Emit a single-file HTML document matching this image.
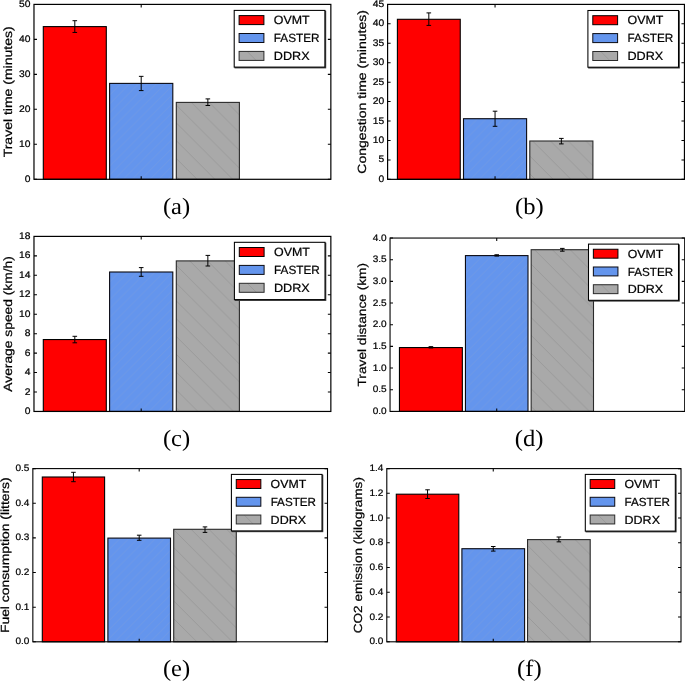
<!DOCTYPE html>
<html><head><meta charset="utf-8"><title>figure</title><style>
html,body{margin:0;padding:0;background:#ffffff;}
body{width:685px;height:681px;overflow:hidden;}
svg{display:block;will-change:transform;}
text{font-family:"Liberation Sans",sans-serif;fill:#000;text-rendering:geometricPrecision;stroke:#000;stroke-width:0.22px;}
.sub{font-family:"Liberation Serif",serif;stroke:none;}
</style></head><body>
<svg width="685" height="681" viewBox="0 0 685 681">
<defs>
<pattern id="hb" patternUnits="userSpaceOnUse" width="8.9" height="8.9"><path d="M-1 9.9L9.9 -1M-1 1L1 -1M7.9 9.9L9.9 7.9" stroke="#b4b4b4" stroke-opacity="0.2" stroke-width="0.7" fill="none"/></pattern>
<pattern id="hg" patternUnits="userSpaceOnUse" width="17.8" height="17.8"><path d="M-1 -1L18.8 18.8M-1 16.8L1 18.8M16.8 -1L18.8 1" stroke="#8c8c8c" stroke-opacity="0.75" stroke-width="0.7" fill="none"/></pattern>
</defs>
<rect x="0" y="0" width="685" height="681" fill="#ffffff"/>
<g id="chart-a">
<rect x="43.3" y="26.6" width="63" height="152.7" fill="#ff0000"/>
<rect x="43.3" y="26.6" width="63" height="152.7" fill="none" stroke="#000000" stroke-width="1.1"/>
<rect x="109.6" y="83.4" width="63.2" height="95.9" fill="#6495ed"/>
<rect x="109.6" y="83.4" width="63.2" height="95.9" fill="url(#hb)"/>
<rect x="109.6" y="83.4" width="63.2" height="95.9" fill="none" stroke="#0a0a12" stroke-width="1.1"/>
<rect x="176.3" y="102.4" width="63.1" height="76.9" fill="#a9a9a9"/>
<rect x="176.3" y="102.4" width="63.1" height="76.9" fill="url(#hg)"/>
<rect x="176.3" y="102.4" width="63.1" height="76.9" fill="none" stroke="#2a2a2a" stroke-width="1.1"/>
<path d="M74.8 20.7V32.45M72.5 20.7H77.1M72.5 32.45H77.1" stroke="#000" stroke-width="1" fill="none"/>
<path d="M141.2 76.35V90.6M138.9 76.35H143.5M138.9 90.6H143.5" stroke="#000" stroke-width="1" fill="none"/>
<path d="M207.85 98.9V105.5M205.55 98.9H210.15M205.55 105.5H210.15" stroke="#000" stroke-width="1" fill="none"/>
<rect x="33.98" y="4.4" width="296.87" height="174.9" fill="none" stroke="#000" stroke-width="1.2"/>
<path d="M33.98 179.3h3M330.85 179.3h-3M33.98 144.32h3M330.85 144.32h-3M33.98 109.34h3M330.85 109.34h-3M33.98 74.36h3M330.85 74.36h-3M33.98 39.38h3M330.85 39.38h-3M33.98 4.4h3M330.85 4.4h-3M141.2 179.3v-3M141.2 4.4v3" stroke="#000" stroke-width="1.05" fill="none"/>
<text x="24.8" y="181.85" font-size="9.5" textLength="5.73" lengthAdjust="spacingAndGlyphs">0</text>
<text x="19.08" y="146.87" font-size="9.5" textLength="11.45" lengthAdjust="spacingAndGlyphs">10</text>
<text x="19.08" y="111.89" font-size="9.5" textLength="11.45" lengthAdjust="spacingAndGlyphs">20</text>
<text x="19.08" y="76.91" font-size="9.5" textLength="11.45" lengthAdjust="spacingAndGlyphs">30</text>
<text x="19.08" y="41.93" font-size="9.5" textLength="11.45" lengthAdjust="spacingAndGlyphs">40</text>
<text x="19.08" y="6.95" font-size="9.5" textLength="11.45" lengthAdjust="spacingAndGlyphs">50</text>
<text transform="translate(12.4 91.85) rotate(-90)" x="-65.51" y="0" font-size="11.9" textLength="131.02" lengthAdjust="spacingAndGlyphs">Travel time (minutes)</text>
<rect x="235" y="11.2" width="90.7" height="56.7" fill="#3a3a3a" stroke="#3a3a3a" stroke-width="1"/>
<rect x="234.2" y="10.4" width="90.7" height="56.7" fill="#fff" stroke="#000" stroke-width="1.05"/>
<rect x="239.1" y="15.6" width="24.8" height="9" fill="#ff0000"/>
<rect x="239.1" y="15.6" width="24.8" height="9" fill="none" stroke="#000000" stroke-width="1"/>
<text x="273.8" y="24.35" font-size="11.9" textLength="35.86" lengthAdjust="spacingAndGlyphs">OVMT</text>
<rect x="239.1" y="33.5" width="24.8" height="9" fill="#6495ed"/>
<rect x="239.1" y="33.5" width="24.8" height="9" fill="none" stroke="#0a0a12" stroke-width="1"/>
<text x="273.8" y="42.25" font-size="11.9" textLength="45.81" lengthAdjust="spacingAndGlyphs">FASTER</text>
<rect x="239.1" y="51.4" width="24.8" height="9" fill="#a9a9a9"/>
<path d="M247.1 51.4l9 9" stroke="#8c8c8c" stroke-opacity="0.7" stroke-width="0.7"/>
<rect x="239.1" y="51.4" width="24.8" height="9" fill="none" stroke="#2a2a2a" stroke-width="1"/>
<text x="273.8" y="60.15" font-size="11.9" textLength="35.77" lengthAdjust="spacingAndGlyphs">DDRX</text>
<text class="sub" x="162.95" y="214.4" font-size="23.5" textLength="27.3" lengthAdjust="spacingAndGlyphs">(a)</text>
</g>
<g id="chart-b">
<rect x="397.4" y="19.3" width="62.85" height="160.05" fill="#ff0000"/>
<rect x="397.4" y="19.3" width="62.85" height="160.05" fill="none" stroke="#000000" stroke-width="1.1"/>
<rect x="463.5" y="118.7" width="63.1" height="60.65" fill="#6495ed"/>
<rect x="463.5" y="118.7" width="63.1" height="60.65" fill="url(#hb)"/>
<rect x="463.5" y="118.7" width="63.1" height="60.65" fill="none" stroke="#0a0a12" stroke-width="1.1"/>
<rect x="529.8" y="141" width="63.1" height="38.35" fill="#a9a9a9"/>
<rect x="529.8" y="141" width="63.1" height="38.35" fill="url(#hg)"/>
<rect x="529.8" y="141" width="63.1" height="38.35" fill="none" stroke="#2a2a2a" stroke-width="1.1"/>
<path d="M428.82 12.9V25.4M426.52 12.9H431.12M426.52 25.4H431.12" stroke="#000" stroke-width="1" fill="none"/>
<path d="M495.05 111.2V126.3M492.75 111.2H497.35M492.75 126.3H497.35" stroke="#000" stroke-width="1" fill="none"/>
<path d="M561.35 138.4V143.9M559.05 138.4H563.65M559.05 143.9H563.65" stroke="#000" stroke-width="1" fill="none"/>
<rect x="387.6" y="4.4" width="296.85" height="174.95" fill="none" stroke="#000" stroke-width="1.2"/>
<path d="M387.6 179.35h3M684.45 179.35h-3M387.6 159.91h3M684.45 159.91h-3M387.6 140.47h3M684.45 140.47h-3M387.6 121.03h3M684.45 121.03h-3M387.6 101.59h3M684.45 101.59h-3M387.6 82.16h3M684.45 82.16h-3M387.6 62.72h3M684.45 62.72h-3M387.6 43.28h3M684.45 43.28h-3M387.6 23.84h3M684.45 23.84h-3M387.6 4.4h3M684.45 4.4h-3M495.05 179.35v-3M495.05 4.4v3" stroke="#000" stroke-width="1.05" fill="none"/>
<text x="378.42" y="181.9" font-size="9.5" textLength="5.73" lengthAdjust="spacingAndGlyphs">0</text>
<text x="378.42" y="162.46" font-size="9.5" textLength="5.73" lengthAdjust="spacingAndGlyphs">5</text>
<text x="372.7" y="143.02" font-size="9.5" textLength="11.45" lengthAdjust="spacingAndGlyphs">10</text>
<text x="372.7" y="123.58" font-size="9.5" textLength="11.45" lengthAdjust="spacingAndGlyphs">15</text>
<text x="372.7" y="104.14" font-size="9.5" textLength="11.45" lengthAdjust="spacingAndGlyphs">20</text>
<text x="372.7" y="84.71" font-size="9.5" textLength="11.45" lengthAdjust="spacingAndGlyphs">25</text>
<text x="372.7" y="65.27" font-size="9.5" textLength="11.45" lengthAdjust="spacingAndGlyphs">30</text>
<text x="372.7" y="45.83" font-size="9.5" textLength="11.45" lengthAdjust="spacingAndGlyphs">35</text>
<text x="372.7" y="26.39" font-size="9.5" textLength="11.45" lengthAdjust="spacingAndGlyphs">40</text>
<text x="372.7" y="6.95" font-size="9.5" textLength="11.45" lengthAdjust="spacingAndGlyphs">45</text>
<text transform="translate(366.1 91.88) rotate(-90)" x="-81.79" y="0" font-size="11.9" textLength="163.58" lengthAdjust="spacingAndGlyphs">Congestion time (minutes)</text>
<rect x="588.7" y="11.3" width="90.6" height="56.7" fill="#3a3a3a" stroke="#3a3a3a" stroke-width="1"/>
<rect x="587.9" y="10.5" width="90.6" height="56.7" fill="#fff" stroke="#000" stroke-width="1.05"/>
<rect x="592.8" y="15.7" width="24.8" height="9" fill="#ff0000"/>
<rect x="592.8" y="15.7" width="24.8" height="9" fill="none" stroke="#000000" stroke-width="1"/>
<text x="627.5" y="24.45" font-size="11.9" textLength="35.86" lengthAdjust="spacingAndGlyphs">OVMT</text>
<rect x="592.8" y="33.6" width="24.8" height="9" fill="#6495ed"/>
<rect x="592.8" y="33.6" width="24.8" height="9" fill="none" stroke="#0a0a12" stroke-width="1"/>
<text x="627.5" y="42.35" font-size="11.9" textLength="45.81" lengthAdjust="spacingAndGlyphs">FASTER</text>
<rect x="592.8" y="51.5" width="24.8" height="9" fill="#a9a9a9"/>
<path d="M600.8 51.5l9 9" stroke="#8c8c8c" stroke-opacity="0.7" stroke-width="0.7"/>
<rect x="592.8" y="51.5" width="24.8" height="9" fill="none" stroke="#2a2a2a" stroke-width="1"/>
<text x="627.5" y="60.25" font-size="11.9" textLength="35.77" lengthAdjust="spacingAndGlyphs">DDRX</text>
<text class="sub" x="514.96" y="214.4" font-size="23.5" textLength="28.68" lengthAdjust="spacingAndGlyphs">(b)</text>
</g>
<g id="chart-c">
<rect x="43.3" y="339.55" width="63" height="71.9" fill="#ff0000"/>
<rect x="43.3" y="339.55" width="63" height="71.9" fill="none" stroke="#000000" stroke-width="1.1"/>
<rect x="109.6" y="272" width="63.2" height="139.45" fill="#6495ed"/>
<rect x="109.6" y="272" width="63.2" height="139.45" fill="url(#hb)"/>
<rect x="109.6" y="272" width="63.2" height="139.45" fill="none" stroke="#0a0a12" stroke-width="1.1"/>
<rect x="176.3" y="260.9" width="63.1" height="150.55" fill="#a9a9a9"/>
<rect x="176.3" y="260.9" width="63.1" height="150.55" fill="url(#hg)"/>
<rect x="176.3" y="260.9" width="63.1" height="150.55" fill="none" stroke="#2a2a2a" stroke-width="1.1"/>
<path d="M74.8 336.3V342.8M72.5 336.3H77.1M72.5 342.8H77.1" stroke="#000" stroke-width="1" fill="none"/>
<path d="M141.2 267.6V276.3M138.9 267.6H143.5M138.9 276.3H143.5" stroke="#000" stroke-width="1" fill="none"/>
<path d="M207.85 255.4V266M205.55 255.4H210.15M205.55 266H210.15" stroke="#000" stroke-width="1" fill="none"/>
<rect x="33.98" y="236.4" width="296.87" height="175.05" fill="none" stroke="#000" stroke-width="1.2"/>
<path d="M33.98 411.45h3M330.85 411.45h-3M33.98 392h3M330.85 392h-3M33.98 372.55h3M330.85 372.55h-3M33.98 353.1h3M330.85 353.1h-3M33.98 333.65h3M330.85 333.65h-3M33.98 314.2h3M330.85 314.2h-3M33.98 294.75h3M330.85 294.75h-3M33.98 275.3h3M330.85 275.3h-3M33.98 255.85h3M330.85 255.85h-3M33.98 236.4h3M330.85 236.4h-3M141.2 411.45v-3M141.2 236.4v3" stroke="#000" stroke-width="1.05" fill="none"/>
<text x="24.8" y="414" font-size="9.5" textLength="5.73" lengthAdjust="spacingAndGlyphs">0</text>
<text x="24.8" y="394.55" font-size="9.5" textLength="5.73" lengthAdjust="spacingAndGlyphs">2</text>
<text x="24.8" y="375.1" font-size="9.5" textLength="5.73" lengthAdjust="spacingAndGlyphs">4</text>
<text x="24.8" y="355.65" font-size="9.5" textLength="5.73" lengthAdjust="spacingAndGlyphs">6</text>
<text x="24.8" y="336.2" font-size="9.5" textLength="5.73" lengthAdjust="spacingAndGlyphs">8</text>
<text x="19.08" y="316.75" font-size="9.5" textLength="11.45" lengthAdjust="spacingAndGlyphs">10</text>
<text x="19.08" y="297.3" font-size="9.5" textLength="11.45" lengthAdjust="spacingAndGlyphs">12</text>
<text x="19.08" y="277.85" font-size="9.5" textLength="11.45" lengthAdjust="spacingAndGlyphs">14</text>
<text x="19.08" y="258.4" font-size="9.5" textLength="11.45" lengthAdjust="spacingAndGlyphs">16</text>
<text x="19.08" y="238.95" font-size="9.5" textLength="11.45" lengthAdjust="spacingAndGlyphs">18</text>
<text transform="translate(12.4 323.93) rotate(-90)" x="-67.79" y="0" font-size="11.9" textLength="135.58" lengthAdjust="spacingAndGlyphs">Average speed (km/h)</text>
<rect x="235.2" y="243.1" width="90.6" height="57.3" fill="#3a3a3a" stroke="#3a3a3a" stroke-width="1"/>
<rect x="234.4" y="242.3" width="90.6" height="57.3" fill="#fff" stroke="#000" stroke-width="1.05"/>
<rect x="239.3" y="247.5" width="24.8" height="9" fill="#ff0000"/>
<rect x="239.3" y="247.5" width="24.8" height="9" fill="none" stroke="#000000" stroke-width="1"/>
<text x="274" y="256.25" font-size="11.9" textLength="35.86" lengthAdjust="spacingAndGlyphs">OVMT</text>
<rect x="239.3" y="265.4" width="24.8" height="9" fill="#6495ed"/>
<rect x="239.3" y="265.4" width="24.8" height="9" fill="none" stroke="#0a0a12" stroke-width="1"/>
<text x="274" y="274.15" font-size="11.9" textLength="45.81" lengthAdjust="spacingAndGlyphs">FASTER</text>
<rect x="239.3" y="283.3" width="24.8" height="9" fill="#a9a9a9"/>
<path d="M247.3 283.3l9 9" stroke="#8c8c8c" stroke-opacity="0.7" stroke-width="0.7"/>
<rect x="239.3" y="283.3" width="24.8" height="9" fill="none" stroke="#2a2a2a" stroke-width="1"/>
<text x="274" y="292.05" font-size="11.9" textLength="35.77" lengthAdjust="spacingAndGlyphs">DDRX</text>
<text class="sub" x="162.95" y="445.7" font-size="23.5" textLength="27.3" lengthAdjust="spacingAndGlyphs">(c)</text>
</g>
<g id="chart-d">
<rect x="399.45" y="347.55" width="62.9" height="63.85" fill="#ff0000"/>
<rect x="399.45" y="347.55" width="62.9" height="63.85" fill="none" stroke="#000000" stroke-width="1.1"/>
<rect x="465.45" y="255.6" width="62.55" height="155.8" fill="#6495ed"/>
<rect x="465.45" y="255.6" width="62.55" height="155.8" fill="url(#hb)"/>
<rect x="465.45" y="255.6" width="62.55" height="155.8" fill="none" stroke="#0a0a12" stroke-width="1.1"/>
<rect x="531.15" y="249.7" width="62.35" height="161.7" fill="#a9a9a9"/>
<rect x="531.15" y="249.7" width="62.35" height="161.7" fill="url(#hg)"/>
<rect x="531.15" y="249.7" width="62.35" height="161.7" fill="none" stroke="#2a2a2a" stroke-width="1.1"/>
<path d="M430.9 346.65V347.95M428.62 346.65H433.18M428.62 347.95H433.18" stroke="#000" stroke-width="1" fill="none"/>
<path d="M496.73 254.75V256.05M494.45 254.75H499M494.45 256.05H499" stroke="#000" stroke-width="1" fill="none"/>
<path d="M562.33 248.4V251.2M560.05 248.4H564.6M560.05 251.2H564.6" stroke="#000" stroke-width="1" fill="none"/>
<rect x="390.05" y="238.05" width="294.65" height="173.35" fill="none" stroke="#000" stroke-width="1.1"/>
<path d="M390.05 411.4h2.97M684.7 411.4h-2.97M390.05 389.73h2.97M684.7 389.73h-2.97M390.05 368.06h2.97M684.7 368.06h-2.97M390.05 346.39h2.97M684.7 346.39h-2.97M390.05 324.73h2.97M684.7 324.73h-2.97M390.05 303.06h2.97M684.7 303.06h-2.97M390.05 281.39h2.97M684.7 281.39h-2.97M390.05 259.72h2.97M684.7 259.72h-2.97M390.05 238.05h2.97M684.7 238.05h-2.97M496.73 411.4v-2.97M496.73 238.05v2.97" stroke="#000" stroke-width="1.05" fill="none"/>
<text x="372.68" y="413.93" font-size="9.41" textLength="13.95" lengthAdjust="spacingAndGlyphs">0.0</text>
<text x="372.68" y="392.26" font-size="9.41" textLength="13.95" lengthAdjust="spacingAndGlyphs">0.5</text>
<text x="372.68" y="370.59" font-size="9.41" textLength="13.95" lengthAdjust="spacingAndGlyphs">1.0</text>
<text x="372.68" y="348.92" font-size="9.41" textLength="13.95" lengthAdjust="spacingAndGlyphs">1.5</text>
<text x="372.68" y="327.25" font-size="9.41" textLength="13.95" lengthAdjust="spacingAndGlyphs">2.0</text>
<text x="372.68" y="305.58" font-size="9.41" textLength="13.95" lengthAdjust="spacingAndGlyphs">2.5</text>
<text x="372.68" y="283.91" font-size="9.41" textLength="13.95" lengthAdjust="spacingAndGlyphs">3.0</text>
<text x="372.68" y="262.25" font-size="9.41" textLength="13.95" lengthAdjust="spacingAndGlyphs">3.5</text>
<text x="372.68" y="240.58" font-size="9.41" textLength="13.95" lengthAdjust="spacingAndGlyphs">4.0</text>
<text transform="translate(365.7 324.73) rotate(-90)" x="-61.79" y="0" font-size="11.79" textLength="123.57" lengthAdjust="spacingAndGlyphs">Travel distance (km)</text>
<rect x="589.29" y="244.89" width="90" height="56.2" fill="#3a3a3a" stroke="#3a3a3a" stroke-width="1"/>
<rect x="588.5" y="244.1" width="90" height="56.2" fill="#fff" stroke="#000" stroke-width="1.05"/>
<rect x="593.36" y="249.25" width="24.58" height="8.92" fill="#ff0000"/>
<rect x="593.36" y="249.25" width="24.58" height="8.92" fill="none" stroke="#000000" stroke-width="1"/>
<text x="627.74" y="257.92" font-size="11.79" textLength="35.54" lengthAdjust="spacingAndGlyphs">OVMT</text>
<rect x="593.36" y="266.99" width="24.58" height="8.92" fill="#6495ed"/>
<rect x="593.36" y="266.99" width="24.58" height="8.92" fill="none" stroke="#0a0a12" stroke-width="1"/>
<text x="627.74" y="275.66" font-size="11.79" textLength="45.4" lengthAdjust="spacingAndGlyphs">FASTER</text>
<rect x="593.36" y="284.73" width="24.58" height="8.92" fill="#a9a9a9"/>
<path d="M601.28 284.73l8.92 8.92" stroke="#8c8c8c" stroke-opacity="0.7" stroke-width="0.7"/>
<rect x="593.36" y="284.73" width="24.58" height="8.92" fill="none" stroke="#2a2a2a" stroke-width="1"/>
<text x="627.74" y="293.4" font-size="11.79" textLength="35.45" lengthAdjust="spacingAndGlyphs">DDRX</text>
<text class="sub" x="514.86" y="445.7" font-size="23.5" textLength="28.68" lengthAdjust="spacingAndGlyphs">(d)</text>
</g>
<g id="chart-e">
<rect x="42.3" y="477" width="62.3" height="164.8" fill="#ff0000"/>
<rect x="42.3" y="477" width="62.3" height="164.8" fill="none" stroke="#000000" stroke-width="1.1"/>
<rect x="107.9" y="538.1" width="62.6" height="103.7" fill="#6495ed"/>
<rect x="107.9" y="538.1" width="62.6" height="103.7" fill="url(#hb)"/>
<rect x="107.9" y="538.1" width="62.6" height="103.7" fill="none" stroke="#0a0a12" stroke-width="1.1"/>
<rect x="173.7" y="529.3" width="62.6" height="112.5" fill="#a9a9a9"/>
<rect x="173.7" y="529.3" width="62.6" height="112.5" fill="url(#hg)"/>
<rect x="173.7" y="529.3" width="62.6" height="112.5" fill="none" stroke="#2a2a2a" stroke-width="1.1"/>
<path d="M73.45 472.3V481.7M71.17 472.3H75.73M71.17 481.7H75.73" stroke="#000" stroke-width="1" fill="none"/>
<path d="M139.2 535.2V540.3M136.92 535.2H141.48M136.92 540.3H141.48" stroke="#000" stroke-width="1" fill="none"/>
<path d="M205 526.9V532.4M202.72 526.9H207.28M202.72 532.4H207.28" stroke="#000" stroke-width="1" fill="none"/>
<rect x="32.85" y="468.6" width="294.65" height="173.2" fill="none" stroke="#000" stroke-width="1.1"/>
<path d="M32.85 641.8h2.97M327.5 641.8h-2.97M32.85 607.16h2.97M327.5 607.16h-2.97M32.85 572.52h2.97M327.5 572.52h-2.97M32.85 537.88h2.97M327.5 537.88h-2.97M32.85 503.24h2.97M327.5 503.24h-2.97M32.85 468.6h2.97M327.5 468.6h-2.97M139.2 641.8v-2.97M139.2 468.6v2.97" stroke="#000" stroke-width="1.05" fill="none"/>
<text x="15.48" y="644.33" font-size="9.41" textLength="13.95" lengthAdjust="spacingAndGlyphs">0.0</text>
<text x="15.48" y="609.69" font-size="9.41" textLength="13.95" lengthAdjust="spacingAndGlyphs">0.1</text>
<text x="15.48" y="575.05" font-size="9.41" textLength="13.95" lengthAdjust="spacingAndGlyphs">0.2</text>
<text x="15.48" y="540.41" font-size="9.41" textLength="13.95" lengthAdjust="spacingAndGlyphs">0.3</text>
<text x="15.48" y="505.77" font-size="9.41" textLength="13.95" lengthAdjust="spacingAndGlyphs">0.4</text>
<text x="15.48" y="471.13" font-size="9.41" textLength="13.95" lengthAdjust="spacingAndGlyphs">0.5</text>
<text transform="translate(8.9 555.2) rotate(-90)" x="-77.85" y="0" font-size="11.79" textLength="155.7" lengthAdjust="spacingAndGlyphs">Fuel consumption (litters)</text>
<rect x="232.19" y="475.19" width="90.6" height="56.5" fill="#3a3a3a" stroke="#3a3a3a" stroke-width="1"/>
<rect x="231.4" y="474.4" width="90.6" height="56.5" fill="#fff" stroke="#000" stroke-width="1.05"/>
<rect x="236.26" y="479.55" width="24.58" height="8.92" fill="#ff0000"/>
<rect x="236.26" y="479.55" width="24.58" height="8.92" fill="none" stroke="#000000" stroke-width="1"/>
<text x="270.64" y="488.22" font-size="11.79" textLength="35.54" lengthAdjust="spacingAndGlyphs">OVMT</text>
<rect x="236.26" y="497.29" width="24.58" height="8.92" fill="#6495ed"/>
<rect x="236.26" y="497.29" width="24.58" height="8.92" fill="none" stroke="#0a0a12" stroke-width="1"/>
<text x="270.64" y="505.96" font-size="11.79" textLength="45.4" lengthAdjust="spacingAndGlyphs">FASTER</text>
<rect x="236.26" y="515.03" width="24.58" height="8.92" fill="#a9a9a9"/>
<path d="M244.18 515.03l8.92 8.92" stroke="#8c8c8c" stroke-opacity="0.7" stroke-width="0.7"/>
<rect x="236.26" y="515.03" width="24.58" height="8.92" fill="none" stroke="#2a2a2a" stroke-width="1"/>
<text x="270.64" y="523.7" font-size="11.79" textLength="35.45" lengthAdjust="spacingAndGlyphs">DDRX</text>
<text class="sub" x="162.95" y="676.1" font-size="23.5" textLength="27.3" lengthAdjust="spacingAndGlyphs">(e)</text>
</g>
<g id="chart-f">
<rect x="396.3" y="494.2" width="62.5" height="147.6" fill="#ff0000"/>
<rect x="396.3" y="494.2" width="62.5" height="147.6" fill="none" stroke="#000000" stroke-width="1.1"/>
<rect x="461.9" y="548.7" width="62.7" height="93.1" fill="#6495ed"/>
<rect x="461.9" y="548.7" width="62.7" height="93.1" fill="url(#hb)"/>
<rect x="461.9" y="548.7" width="62.7" height="93.1" fill="none" stroke="#0a0a12" stroke-width="1.1"/>
<rect x="527.55" y="539.6" width="62.65" height="102.2" fill="#a9a9a9"/>
<rect x="527.55" y="539.6" width="62.65" height="102.2" fill="url(#hg)"/>
<rect x="527.55" y="539.6" width="62.65" height="102.2" fill="none" stroke="#2a2a2a" stroke-width="1.1"/>
<path d="M427.55 489.8V498.5M425.27 489.8H429.83M425.27 498.5H429.83" stroke="#000" stroke-width="1" fill="none"/>
<path d="M493.25 546.5V551.1M490.97 546.5H495.53M490.97 551.1H495.53" stroke="#000" stroke-width="1" fill="none"/>
<path d="M558.88 537V541.85M556.6 537H561.15M556.6 541.85H561.15" stroke="#000" stroke-width="1" fill="none"/>
<rect x="386.8" y="468.6" width="294.2" height="173.2" fill="none" stroke="#000" stroke-width="1.1"/>
<path d="M386.8 641.8h2.97M681 641.8h-2.97M386.8 617.06h2.97M681 617.06h-2.97M386.8 592.31h2.97M681 592.31h-2.97M386.8 567.57h2.97M681 567.57h-2.97M386.8 542.83h2.97M681 542.83h-2.97M386.8 518.09h2.97M681 518.09h-2.97M386.8 493.34h2.97M681 493.34h-2.97M386.8 468.6h2.97M681 468.6h-2.97M493.25 641.8v-2.97M493.25 468.6v2.97" stroke="#000" stroke-width="1.05" fill="none"/>
<text x="369.43" y="644.33" font-size="9.41" textLength="13.95" lengthAdjust="spacingAndGlyphs">0.0</text>
<text x="369.43" y="619.58" font-size="9.41" textLength="13.95" lengthAdjust="spacingAndGlyphs">0.2</text>
<text x="369.43" y="594.84" font-size="9.41" textLength="13.95" lengthAdjust="spacingAndGlyphs">0.4</text>
<text x="369.43" y="570.1" font-size="9.41" textLength="13.95" lengthAdjust="spacingAndGlyphs">0.6</text>
<text x="369.43" y="545.36" font-size="9.41" textLength="13.95" lengthAdjust="spacingAndGlyphs">0.8</text>
<text x="369.43" y="520.61" font-size="9.41" textLength="13.95" lengthAdjust="spacingAndGlyphs">1.0</text>
<text x="369.43" y="495.87" font-size="9.41" textLength="13.95" lengthAdjust="spacingAndGlyphs">1.2</text>
<text x="369.43" y="471.13" font-size="9.41" textLength="13.95" lengthAdjust="spacingAndGlyphs">1.4</text>
<text transform="translate(362.2 555.2) rotate(-90)" x="-78.12" y="0" font-size="11.79" textLength="156.25" lengthAdjust="spacingAndGlyphs">CO2 emission (kilograms)</text>
<rect x="586.09" y="475.19" width="90" height="56.7" fill="#3a3a3a" stroke="#3a3a3a" stroke-width="1"/>
<rect x="585.3" y="474.4" width="90" height="56.7" fill="#fff" stroke="#000" stroke-width="1.05"/>
<rect x="590.16" y="479.55" width="24.58" height="8.92" fill="#ff0000"/>
<rect x="590.16" y="479.55" width="24.58" height="8.92" fill="none" stroke="#000000" stroke-width="1"/>
<text x="624.54" y="488.22" font-size="11.79" textLength="35.54" lengthAdjust="spacingAndGlyphs">OVMT</text>
<rect x="590.16" y="497.29" width="24.58" height="8.92" fill="#6495ed"/>
<rect x="590.16" y="497.29" width="24.58" height="8.92" fill="none" stroke="#0a0a12" stroke-width="1"/>
<text x="624.54" y="505.96" font-size="11.79" textLength="45.4" lengthAdjust="spacingAndGlyphs">FASTER</text>
<rect x="590.16" y="515.03" width="24.58" height="8.92" fill="#a9a9a9"/>
<path d="M598.08 515.03l8.92 8.92" stroke="#8c8c8c" stroke-opacity="0.7" stroke-width="0.7"/>
<rect x="590.16" y="515.03" width="24.58" height="8.92" fill="none" stroke="#2a2a2a" stroke-width="1"/>
<text x="624.54" y="523.7" font-size="11.79" textLength="35.45" lengthAdjust="spacingAndGlyphs">DDRX</text>
<text class="sub" x="517.11" y="676.3" font-size="23.5" textLength="24.58" lengthAdjust="spacingAndGlyphs">(f)</text>
</g>
</svg>
</body></html>
